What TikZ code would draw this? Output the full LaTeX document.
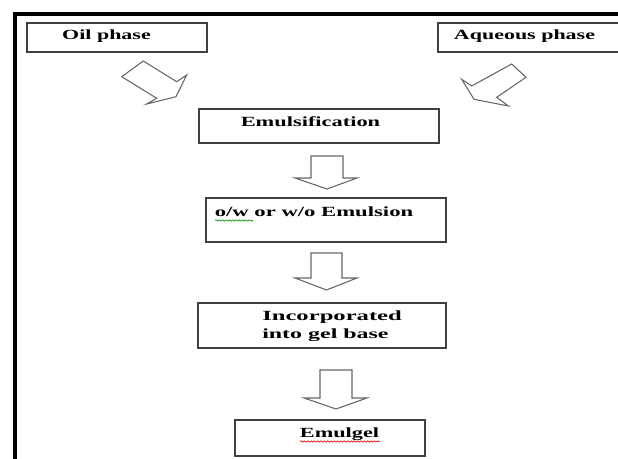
\documentclass[tikz,border=0pt]{standalone}
\usepackage{fontspec}
\setmainfont{Liberation Serif}
\usepackage{graphicx}
\usetikzlibrary{decorations.pathmorphing}
\newcommand\stretchtxt[2][1.57]{\scalebox{#1}[1]{#2}}
\begin{document}
\begin{tikzpicture}[x=0.75pt,y=-0.75pt,
  box/.style={draw=black!75, line width=1pt, inner sep=0pt},
  lbl/.style={anchor=base, inner sep=0pt, font=\fontsize{10.5}{12}\selectfont\bfseries},
  blk/.style={draw=black!60, line width=0.8pt, fill=white, line join=miter},
  frameline/.style={line width=3pt, line join=miter},
  squig/.style={line width=0.5pt, decorate, decoration={snake, amplitude=0.5pt, segment length=2.5pt}}
]
\useasboundingbox (0,0) rectangle (618,459);
\clip (0,0) rectangle (618,459);
\fill[white] (0,0) rectangle (618,459);

% frame
\draw[frameline] (15,470) -- (15,14) -- (630,14);

% boxes
\node[box, minimum width=135pt, minimum height=21.75pt] (oil) at (117,37.5) {};
\node[box, minimum width=140.25pt, minimum height=21.75pt] (aq) at (531.5,37.5) {};
\node[box, minimum width=180pt, minimum height=25.5pt] (emuls) at (319,126) {};
\node[box, minimum width=180pt, minimum height=33pt] (ow) at (326,220) {};
\node[box, minimum width=186pt, minimum height=33.75pt] (inc) at (322,325.5) {};
\node[box, minimum width=142.5pt, minimum height=27pt] (emg) at (330,438) {};

% texts
\node[lbl] (oiltxt) at (106.5,40) {\stretchtxt{Oil phase}};
\node[lbl] (aqtxt) at (524.5,40) {\stretchtxt{Aqueous phase}};
\node[lbl] (emulstxt) at (310.5,127) {\stretchtxt[1.60]{Emulsification}};
\node[lbl] (owtxt) at (314,217) {\stretchtxt[1.62]{o/w or w/o Emulsion}};
\node[lbl, anchor=base west] (inc1) at (262,321) {\stretchtxt[1.76]{Incorporated}};
\node[lbl, anchor=base west] (inc2) at (262,339) {\stretchtxt[1.71]{into gel base}};
\node[lbl] (emgtxt) at (339.5,438) {\stretchtxt[1.59]{Emulgel}};

% spell-check squiggles
\draw[squig, green!55!black] (215,220.5) -- (253,220.5);
\draw[squig, red!85!black] (300,441.5) -- (380,441.5);

% diagonal block arrows
\draw[blk] (121.7,76.7) -- (143.3,61) -- (176.7,81.7) -- (186.7,75) -- (176,96.7) -- (146.7,104) -- (156.7,98.3) -- cycle;
\draw[blk] (511.7,64) -- (526,77.3) -- (496.7,97.3) -- (508.3,106) -- (474,99.3) -- (461.7,79.3) -- (471.7,86) -- cycle;

% down block arrows
\draw[blk] (311,156) -- (343,156) -- (343,178) -- (357,178) -- (327,189) -- (295,178) -- (311,178) -- cycle;
\draw[blk] (311,253) -- (342,253) -- (342,278) -- (357,278) -- (326.5,290) -- (295,278) -- (311,278) -- cycle;
\draw[blk] (320,370) -- (352,370) -- (352,398) -- (367,398) -- (336,409) -- (304,398) -- (320,398) -- cycle;
\end{tikzpicture}
\end{document}
